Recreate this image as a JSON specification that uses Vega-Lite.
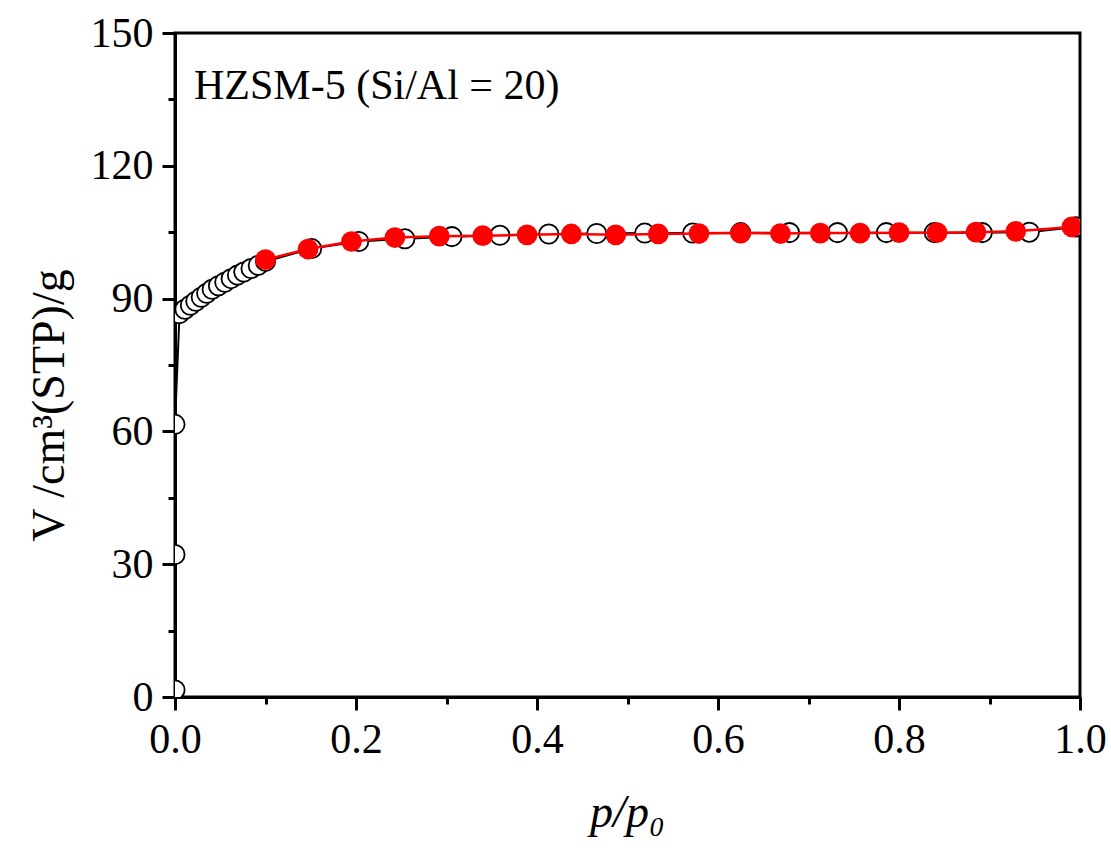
{
  "$schema": "https://vega.github.io/schema/vega-lite/v6.json",
  "width": 905,
  "height": 664,
  "autosize": {"type": "none"},
  "padding": {"left": 175, "top": 33, "right": 31, "bottom": 151},
  "background": "white",
  "config": {
    "view": {"stroke": "black", "strokeWidth": 3},
    "font": "Liberation Serif",
    "axis": {
      "domainColor": "black",
      "domainWidth": 3,
      "tickColor": "black",
      "tickWidth": 3,
      "grid": false,
      "labelFont": "Liberation Serif",
      "labelFontSize": 42,
      "labelColor": "black",
      "titleFont": "Liberation Serif",
      "titleFontSize": 46,
      "titleFontWeight": "normal",
      "titleColor": "black",
      "labelFlush": false,
      "labelOverlap": false
    }
  },
  "datasets": {
    "iso": [
      {"branch": "adsorption", "i": 1, "p": 0.0, "v": 1.6},
      {"branch": "adsorption", "i": 2, "p": 0.0, "v": 32.2},
      {"branch": "adsorption", "i": 3, "p": 0.0, "v": 61.6},
      {"branch": "adsorption", "i": 4, "p": 0.005, "v": 86.6},
      {"branch": "adsorption", "i": 5, "p": 0.011, "v": 87.6},
      {"branch": "adsorption", "i": 6, "p": 0.017, "v": 88.5},
      {"branch": "adsorption", "i": 7, "p": 0.023, "v": 89.4},
      {"branch": "adsorption", "i": 8, "p": 0.029, "v": 90.3},
      {"branch": "adsorption", "i": 9, "p": 0.035, "v": 91.2},
      {"branch": "adsorption", "i": 10, "p": 0.041, "v": 92.1},
      {"branch": "adsorption", "i": 11, "p": 0.048, "v": 92.9},
      {"branch": "adsorption", "i": 12, "p": 0.055, "v": 93.7},
      {"branch": "adsorption", "i": 13, "p": 0.062, "v": 94.5},
      {"branch": "adsorption", "i": 14, "p": 0.069, "v": 95.3},
      {"branch": "adsorption", "i": 15, "p": 0.076, "v": 96.0},
      {"branch": "adsorption", "i": 16, "p": 0.084, "v": 96.8},
      {"branch": "adsorption", "i": 17, "p": 0.092, "v": 97.5},
      {"branch": "adsorption", "i": 18, "p": 0.1, "v": 98.4},
      {"branch": "adsorption", "i": 19, "p": 0.151, "v": 101.3},
      {"branch": "adsorption", "i": 20, "p": 0.203, "v": 102.9},
      {"branch": "adsorption", "i": 21, "p": 0.254, "v": 103.5},
      {"branch": "adsorption", "i": 22, "p": 0.306, "v": 104.0},
      {"branch": "adsorption", "i": 23, "p": 0.359, "v": 104.3},
      {"branch": "adsorption", "i": 24, "p": 0.413, "v": 104.6},
      {"branch": "adsorption", "i": 25, "p": 0.466, "v": 104.7},
      {"branch": "adsorption", "i": 26, "p": 0.519, "v": 104.8},
      {"branch": "adsorption", "i": 27, "p": 0.572, "v": 104.8},
      {"branch": "adsorption", "i": 28, "p": 0.625, "v": 104.9},
      {"branch": "adsorption", "i": 29, "p": 0.679, "v": 104.9},
      {"branch": "adsorption", "i": 30, "p": 0.732, "v": 104.9},
      {"branch": "adsorption", "i": 31, "p": 0.786, "v": 104.9},
      {"branch": "adsorption", "i": 32, "p": 0.839, "v": 104.9},
      {"branch": "adsorption", "i": 33, "p": 0.892, "v": 104.9},
      {"branch": "adsorption", "i": 34, "p": 0.944, "v": 105.0},
      {"branch": "adsorption", "i": 35, "p": 0.995, "v": 106.2},
      {"branch": "desorption", "i": 1, "p": 0.1, "v": 98.8},
      {"branch": "desorption", "i": 2, "p": 0.147, "v": 101.2},
      {"branch": "desorption", "i": 3, "p": 0.195, "v": 102.9},
      {"branch": "desorption", "i": 4, "p": 0.243, "v": 103.8},
      {"branch": "desorption", "i": 5, "p": 0.292, "v": 104.1},
      {"branch": "desorption", "i": 6, "p": 0.34, "v": 104.2},
      {"branch": "desorption", "i": 7, "p": 0.389, "v": 104.4},
      {"branch": "desorption", "i": 8, "p": 0.438, "v": 104.6},
      {"branch": "desorption", "i": 9, "p": 0.487, "v": 104.4},
      {"branch": "desorption", "i": 10, "p": 0.534, "v": 104.6},
      {"branch": "desorption", "i": 11, "p": 0.579, "v": 104.7},
      {"branch": "desorption", "i": 12, "p": 0.625, "v": 104.8},
      {"branch": "desorption", "i": 13, "p": 0.669, "v": 104.7},
      {"branch": "desorption", "i": 14, "p": 0.713, "v": 104.8},
      {"branch": "desorption", "i": 15, "p": 0.757, "v": 104.8},
      {"branch": "desorption", "i": 16, "p": 0.8, "v": 104.9},
      {"branch": "desorption", "i": 17, "p": 0.842, "v": 104.9},
      {"branch": "desorption", "i": 18, "p": 0.885, "v": 105.0},
      {"branch": "desorption", "i": 19, "p": 0.929, "v": 105.2},
      {"branch": "desorption", "i": 20, "p": 0.991, "v": 106.2}
    ],
    "note": [
      {"label": "HZSM-5 (Si/Al = 20)", "p": 0.021, "v": 135.2}
    ]
  },
  "data": {"name": "iso"},
  "encoding": {
    "x": {
      "field": "p",
      "type": "quantitative",
      "scale": {"domain": [0, 1], "nice": false, "zero": false},
      "axis": {
        "title": "p/p₀",
        "titleFontStyle": "italic",
        "titleX": 452,
        "titleY": 129,
        "titleBaseline": "alphabetic",
        "titleAlign": "center",
        "values": [0, 0.1, 0.2, 0.3, 0.4, 0.5, 0.6, 0.7, 0.8, 0.9, 1.0],
        "labelExpr": "round(datum.value * 10) % 2 === 0 ? format(datum.value, '.1f') : ''",
        "tickSize": {"condition": {"test": "round(datum.value * 10) % 2 === 0", "value": 13}, "value": 7},
        "labelPadding": 9
      }
    },
    "y": {
      "field": "v",
      "type": "quantitative",
      "scale": {"domain": [0, 150], "nice": false, "zero": false},
      "axis": {
        "title": "V /cm³(STP)/g",
        "titleAngle": -90,
        "titleX": -112,
        "titleY": 372,
        "titleBaseline": "alphabetic",
        "titleAlign": "center",
        "values": [0, 15, 30, 45, 60, 75, 90, 105, 120, 135, 150],
        "labelExpr": "datum.value % 30 === 0 ? datum.label : ''",
        "tickSize": {"condition": {"test": "datum.value % 30 === 0", "value": 13}, "value": 7},
        "labelPadding": 9
      }
    }
  },
  "layer": [
    {
      "transform": [{"filter": "datum.branch === 'adsorption'"}],
      "mark": {"type": "line", "color": "black", "strokeWidth": 2, "clip": true},
      "encoding": {"order": {"field": "i", "type": "quantitative"}}
    },
    {
      "transform": [{"filter": "datum.branch === 'adsorption'"}],
      "mark": {"type": "point", "shape": "circle", "filled": true, "fill": "white", "stroke": "black", "strokeWidth": 1.8, "size": 370, "opacity": 1, "clip": true}
    },
    {
      "transform": [{"filter": "datum.branch === 'desorption'"}],
      "mark": {"type": "line", "color": "#ff0000", "strokeWidth": 2.5, "clip": true},
      "encoding": {"order": {"field": "i", "type": "quantitative"}}
    },
    {
      "transform": [{"filter": "datum.branch === 'desorption'"}],
      "mark": {"type": "point", "shape": "circle", "filled": true, "fill": "#ff0000", "strokeWidth": 0, "size": 430, "opacity": 1, "clip": true}
    },
    {
      "data": {"name": "note"},
      "mark": {"type": "text", "font": "Liberation Serif", "fontSize": 42, "align": "left", "baseline": "alphabetic", "color": "black"},
      "encoding": {"text": {"field": "label", "type": "nominal"}}
    }
  ]
}
